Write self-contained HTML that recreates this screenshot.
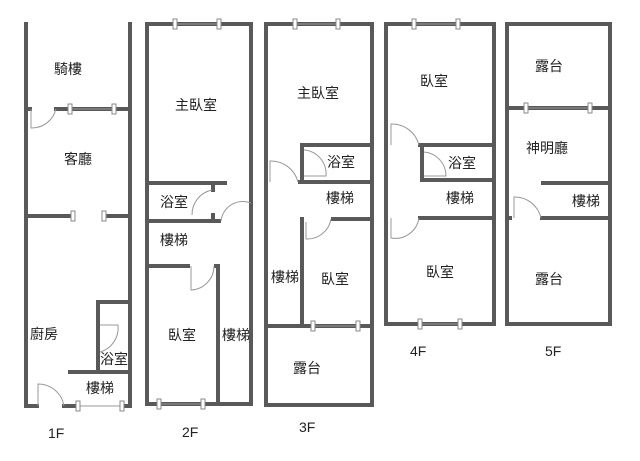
<!DOCTYPE html>
<html><head><meta charset="utf-8"><style>
html,body{margin:0;padding:0;background:#fff;width:640px;height:461px;overflow:hidden}
svg text{font-family:"Liberation Sans","Noto Sans CJK TC",sans-serif;font-size:14px;fill:#222}
.w{stroke:#595959;stroke-width:4;fill:none;stroke-linecap:square}
.t{stroke:#999;stroke-width:1;fill:none}
.k{fill:#fff;stroke:#888;stroke-width:1}
</style></head><body>
<svg width="640" height="461" viewBox="0 0 640 461" xmlns="http://www.w3.org/2000/svg">
<defs>
<g id="tk"><rect x="-2" y="-5" width="4" height="10" class="k"/></g>
</defs>
<!-- 1F -->
<path class="w" d="M26,24V406H37 M64,406H78 M122,406H130V24 M26,109H30 M56,109H130 M26,216H72 M104,216H130 M98,372V302H130 M70,372H130 M98,325V330 M98,350V372"/>
<line class="t" x1="72" y1="109" x2="114" y2="109"/><use href="#tk" x="70" y="109"/><use href="#tk" x="114" y="109"/>
<use href="#tk" x="73" y="216"/><use href="#tk" x="104" y="216"/>
<line class="t" x1="78" y1="406" x2="122" y2="406"/><use href="#tk" x="78" y="406"/><use href="#tk" x="122" y="406"/>
<path class="t" d="M31,109V128A25,25 0 0 0 56,109"/>
<path class="t" d="M38,406V384A26,26 0 0 1 64,406"/>
<path class="t" d="M100,325H118A25,25 0 0 1 100,352"/>
<!-- 2F -->
<path class="w" d="M147,24H251V404H147Z M147,183H225 M147,221H219 M213,183V190 M213,215V221 M147,266H188 M216,266H218V404"/>
<line class="t" x1="175" y1="24" x2="219" y2="24"/><use href="#tk" x="175" y="24"/><use href="#tk" x="219" y="24"/>
<line class="t" x1="159" y1="404" x2="203" y2="404"/><use href="#tk" x="159" y="404"/><use href="#tk" x="203" y="404"/>
<path class="t" d="M212,190A25,25 0 0 0 192,215 M251,203A22,22 0 0 0 221,221"/>
<path class="t" d="M191,266V290A24,24 0 0 0 214,266"/>
<!-- 3F -->
<path class="w" d="M266,24H372V405H266Z M302,145H372 M302,145V182 M300,182H372 M333,219H372 M302,219V326 M266,326H372"/>
<line class="t" x1="295" y1="24" x2="338" y2="24"/><use href="#tk" x="295" y="24"/><use href="#tk" x="338" y="24"/>
<line class="t" x1="313" y1="326" x2="358" y2="326"/><use href="#tk" x="313" y="326"/><use href="#tk" x="358" y="326"/>
<path class="t" d="M270,182V161A28,28 0 0 1 298,182 M304,150A24,24 0 0 1 326,176H304 M306,222V239A24,24 0 0 0 331,219"/>
<!-- 4F -->
<path class="w" d="M386,24H494V324H386Z M420,145H494 M422,145V180H494 M420,218H494"/>
<line class="t" x1="414" y1="24" x2="458" y2="24"/><use href="#tk" x="414" y="24"/><use href="#tk" x="458" y="24"/>
<line class="t" x1="420" y1="324" x2="460" y2="324"/><use href="#tk" x="420" y="324"/><use href="#tk" x="460" y="324"/>
<path class="t" d="M391,145V124A28,28 0 0 1 419,145 M424,152A24,24 0 0 1 446,176H424 M391,218V238A24,24 0 0 0 419,218"/>
<!-- 5F -->
<path class="w" d="M507,24H610V324H507Z M507,108H610 M543,183H610 M507,218H510 M542,218H610"/>
<line class="t" x1="526" y1="108" x2="590" y2="108"/><use href="#tk" x="526" y="108"/><use href="#tk" x="590" y="108"/>
<path class="t" d="M514,218V197A27,27 0 0 1 541,218"/>
<!-- labels -->
<text x="54" y="74">騎樓</text><text x="64" y="164">客廳</text><text x="30" y="339">廚房</text>
<text x="100" y="364">浴室</text><text x="86" y="393">樓梯</text><text x="48" y="438" font-size="15">1F</text>
<text x="175" y="110">主臥室</text><text x="160" y="207">浴室</text><text x="160" y="245">樓梯</text>
<text x="168" y="340">臥室</text><text x="222" y="340">樓梯</text><text x="182" y="437" font-size="15">2F</text>
<text x="297" y="98">主臥室</text><text x="327" y="167">浴室</text><text x="326" y="203">樓梯</text>
<text x="271" y="282">樓梯</text><text x="321" y="284">臥室</text><text x="293" y="373">露台</text><text x="299" y="432" font-size="15">3F</text>
<text x="420" y="86">臥室</text><text x="448" y="168">浴室</text><text x="446" y="203">樓梯</text>
<text x="426" y="277">臥室</text><text x="410" y="356" font-size="15">4F</text>
<text x="535" y="71">露台</text><text x="526" y="153">神明廳</text><text x="572" y="206">樓梯</text>
<text x="535" y="284">露台</text><text x="545" y="356" font-size="15">5F</text>
</svg>
</body></html>
